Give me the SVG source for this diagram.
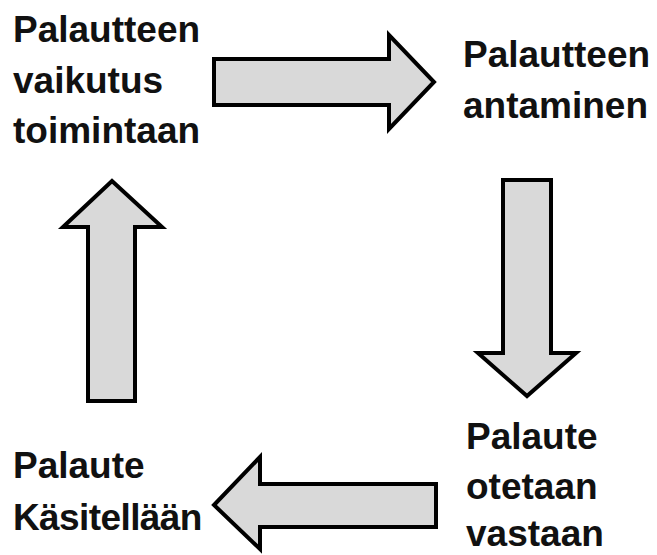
<svg xmlns="http://www.w3.org/2000/svg" width="657" height="555" viewBox="0 0 657 555">
<style>
.t{font-family:"Liberation Sans",Arial,sans-serif;font-weight:bold;font-size:37px;fill:#111}
.a{fill:#d9d9d9;stroke:#000;stroke-width:4;stroke-linejoin:miter}
</style>
<rect width="657" height="555" fill="#fff"/>
<g id="connectors">
<polygon class="a" points="214,59 389,59 389,35 434,82 389,129 389,105 214,105"/>
<polygon class="a" points="503,180 551,180 551,353 576,353 527,396 478,353 503,353"/>
<polygon class="a" points="436,484 260,484 260,457 214,505 260,549 260,527 436,527"/>
<polygon class="a" points="88,401 88,227 63,227 112,181 162,227 135,227 135,401"/>
</g>
<g id="n-vaikutus"><text class="t" x="13" y="42">Palautteen</text><text class="t" x="13" y="93">vaikutus</text><text class="t" x="13" y="143">toimintaan</text></g>
<g id="n-antaminen"><text class="t" x="463" y="67">Palautteen</text><text class="t" x="463" y="118">antaminen</text></g>
<g id="n-vastaan"><text class="t" x="466" y="449">Palaute</text><text class="t" x="466" y="499">otetaan</text><text class="t" x="466" y="546">vastaan</text></g>
<g id="n-kasitellaan"><text class="t" x="13" y="478">Palaute</text><text class="t" x="13" y="530" letter-spacing="-0.6">Käsitellään</text></g>
</svg>
